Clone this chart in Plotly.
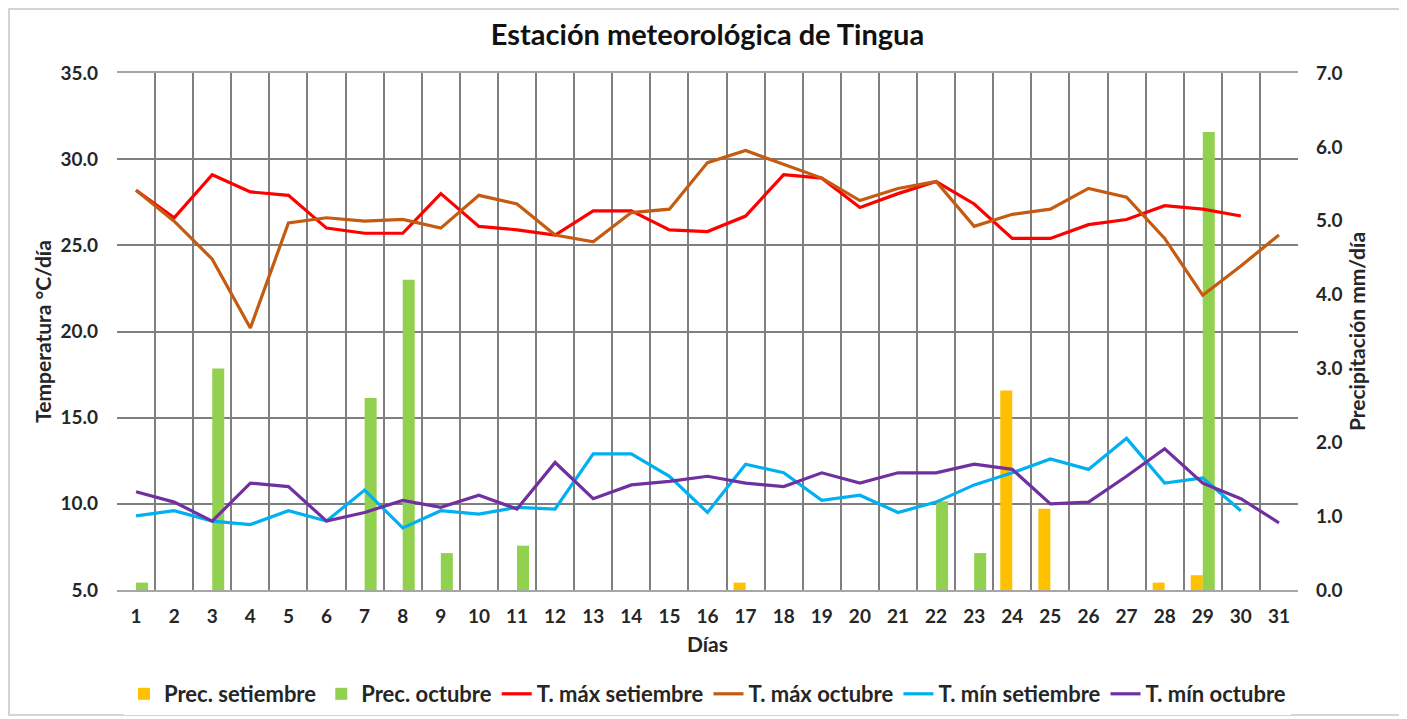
import plotly.graph_objects as go

days = list(range(1, 32))

prec_set = [None, None, None, None, None, None, None, None, None, None,
            None, None, None, None, None, None, 0.1, None, None, None,
            None, None, None, 2.7, 1.1, None, None, 0.1, 0.2, None, None]
prec_oct = [0.1, None, 3.0, None, None, None, 2.6, 4.2, 0.5, None,
            0.6, None, None, None, None, None, None, None, None, None,
            None, 1.2, 0.5, None, None, None, None, None, 6.2, None, None]

tmax_set = [28.2, 26.6, 29.1, 28.1, 27.9, 26.0, 25.7, 25.7, 28.0, 26.1,
            25.9, 25.6, 27.0, 27.0, 25.9, 25.8, 26.7, 29.1, 28.9, 27.2,
            28.0, 28.7, 27.4, 25.4, 25.4, 26.2, 26.5, 27.3, 27.1, 26.7, None]
tmax_oct = [28.2, 26.4, 24.2, 20.2, 26.3, 26.6, 26.4, 26.5, 26.0, 27.9,
            27.4, 25.6, 25.2, 26.9, 27.1, 29.8, 30.5, 29.7, 28.9, 27.6,
            28.3, 28.7, 26.1, 26.8, 27.1, 28.3, 27.8, 25.4, 22.1, 23.8, 25.6]
tmin_set = [9.3, 9.6, 9.0, 8.8, 9.6, 9.0, 10.8, 8.6, 9.6, 9.4,
            9.8, 9.7, 12.9, 12.9, 11.6, 9.5, 12.3, 11.8, 10.2, 10.5,
            9.5, 10.1, 11.1, 11.8, 12.6, 12.0, 13.8, 11.2, 11.5, 9.6, None]
tmin_oct = [10.7, 10.1, 9.0, 11.2, 11.0, 9.0, 9.5, 10.2, 9.8, 10.5,
            9.7, 12.4, 10.3, 11.1, 11.3, 11.6, 11.2, 11.0, 11.8, 11.2,
            11.8, 11.8, 12.3, 12.0, 10.0, 10.1, 11.6, 13.2, 11.2, 10.3, 8.9]

temp_ticks = [5, 10, 15, 20, 25, 30, 35]
prec_ticks = [0, 1, 2, 3, 4, 5, 6, 7]

FONT = "Lato"
TXT = "#262626"
fig = go.Figure()

fig.add_trace(go.Bar(x=days, y=prec_set, name="Prec. setiembre",
                     marker=dict(color="#FFC000", line=dict(width=0)), yaxis="y"))
fig.add_trace(go.Bar(x=days, y=prec_oct, name="Prec. octubre",
                     marker=dict(color="#92D050", line=dict(width=0)), yaxis="y"))

for name, vals, col in [("T. máx setiembre", tmax_set, "#FF0000"),
                        ("T. máx octubre", tmax_oct, "#C55A11"),
                        ("T. mín setiembre", tmin_set, "#00B0F0"),
                        ("T. mín octubre", tmin_oct, "#7030A0")]:
    fig.add_trace(go.Scatter(x=days, y=vals, name=name, mode="lines",
                             line=dict(color=col, width=3.2), yaxis="y2"))

# page body has an 8px margin: work in screen pixels and shift
O = 8
W, H = 1407 - O, 719 - O
L, R, T, B = 117 - O, 1298 - O, 73 - O, 590 - O
pw, ph = R - L, B - T

def px_x(p):
    return (p - O - L) / pw

def px_y(p):
    return (B - (p - O)) / ph

tickfont = dict(family=FONT, size=19, color=TXT, weight="bold")
titlefont = dict(family=FONT, size=21, color=TXT, weight="bold")

fig.update_layout(
    width=W, height=H,
    margin=dict(l=L, r=W - R, t=T, b=H - B, autoexpand=False),
    paper_bgcolor="white", plot_bgcolor="white",
    title=dict(text="Estación meteorológica de Tingua", x=0.5, xanchor="center",
               xref="paper",
               y=1 - (35 - O) / H, yanchor="middle",
               font=dict(family=FONT, size=29, color="#111111", weight="bold")),
    barmode="group", bargap=0.37, bargroupgap=0,
    showlegend=True,
    legend=dict(orientation="h", x=0.5, xanchor="center", xref="paper",
                yref="container", y=1 - (694 - O) / H, yanchor="middle",
                font=dict(family=FONT, size=22, color=TXT, weight="bold"),
                traceorder="normal", itemwidth=30, tracegroupgap=0),
    xaxis=dict(range=[0.5, 31.5], tickmode="array", tickvals=days,
               ticktext=[str(d) for d in days], tickfont=tickfont,
               showgrid=False, zeroline=False, automargin=False,
               showline=True, linecolor="#a6a6a6", linewidth=1.5, mirror=True,
               ticks="outside", ticklen=8, tickcolor="rgba(0,0,0,0)",
               minor=dict(tickmode="linear", tick0=0.5, dtick=1, showgrid=True,
                          gridcolor="#7f7f7f", gridwidth=1.5),
               title=dict(text="Días", font=titlefont, standoff=12)),
    yaxis=dict(range=[0, 7], side="right", tickmode="array", tickvals=prec_ticks,
               ticktext=[f"{v:.1f}" for v in prec_ticks], tickfont=tickfont,
               showgrid=False, zeroline=False, ticklabelstandoff=17, automargin=False,
               title=dict(text="Precipitación mm/día", font=titlefont, standoff=8)),
    yaxis2=dict(range=[5, 35], side="left", overlaying="y", tickmode="array",
                tickvals=temp_ticks, ticktext=[f"{v:.1f}" for v in temp_ticks],
                tickfont=tickfont, showgrid=True, gridcolor="#7f7f7f", gridwidth=1.5,
                zeroline=False, ticklabelstandoff=18, automargin=False,
                title=dict(text="Temperatura °C/día", font=titlefont, standoff=3)),
)

fig.add_shape(type="rect", xref="paper", yref="paper",
              x0=px_x(9), x1=px_x(1400), y0=px_y(715), y1=px_y(9),
              line=dict(color="#d4d4d4", width=2), layer="below")

fig.write_html("out.html")
